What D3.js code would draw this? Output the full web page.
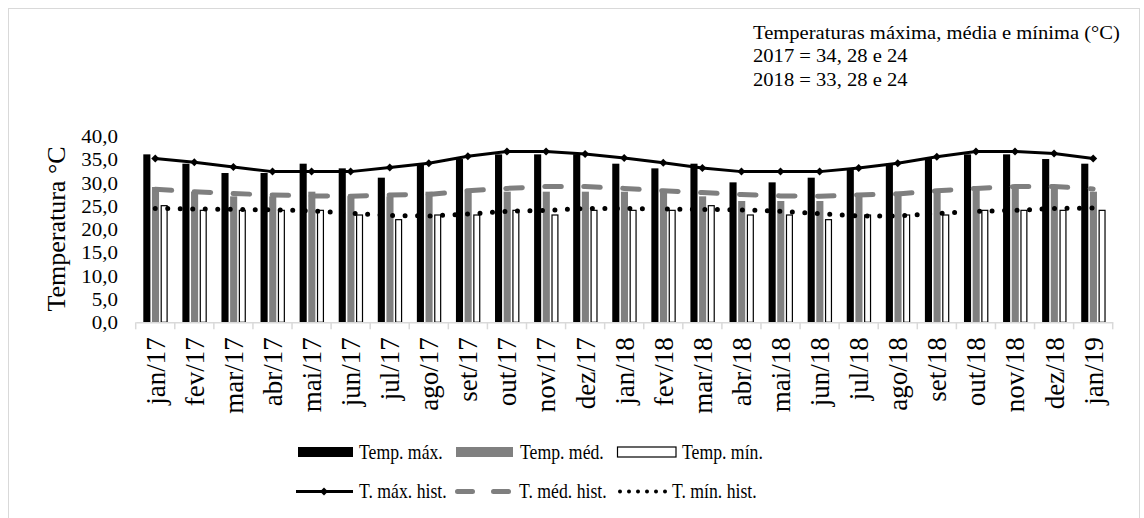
<!DOCTYPE html>
<html>
<head>
<meta charset="utf-8">
<script src="https://cdn.jsdelivr.net/npm/d3@7"></script>
<style>
  body { margin: 0; background: #fff; }
  text { font-family: 'Liberation Serif', 'Times New Roman', serif; fill: #000; }
</style>
</head>
<body>
<div id="chart"></div>
<script>
const months = ['jan/17', 'fev/17', 'mar/17', 'abr/17', 'mai/17', 'jun/17', 'jul/17', 'ago/17', 'set/17', 'out/17', 'nov/17', 'dez/17',
  'jan/18', 'fev/18', 'mar/18', 'abr/18', 'mai/18', 'jun/18', 'jul/18', 'ago/18', 'set/18', 'out/18', 'nov/18', 'dez/18', 'jan/19']

// monthly values (°C)
const tempMax = [36, 34, 32, 32, 34, 33, 31, 34, 35, 36, 36, 36, 34, 33, 34, 30, 30, 31, 33, 34, 35, 36, 36, 35, 34]
const tempMed = [29, 28, 27, 27, 28, 27, 27, 28, 28, 28, 28, 28, 28, 28, 27, 26, 26, 26, 27, 28, 28, 29, 29, 29, 28]
const tempMin = [25, 24, 24, 24, 24, 23, 22, 23, 23, 24, 23, 24, 24, 24, 25, 23, 23, 22, 23, 23, 23, 24, 24, 24, 24]

// historical averages
const histMax = [35.1, 34.3, 33.3, 32.3, 32.3, 32.3, 33.2, 34.1, 35.6, 36.6, 36.6, 36.1, 35.2, 34.2, 33.1, 32.3, 32.3, 32.3, 33.1, 34.1, 35.5, 36.6, 36.6, 36.2, 35.1]
const histMed = [28.5, 28.0, 27.6, 27.3, 27.1, 27.0, 27.3, 27.4, 28.2, 28.7, 29.1, 29.1, 28.7, 28.2, 27.8, 27.4, 27.1, 27.0, 27.3, 27.5, 28.2, 28.7, 29.1, 29.1, 28.6]
const histMin = [24.4, 24.3, 24.2, 24.1, 23.9, 23.4, 22.9, 22.8, 23.2, 23.8, 24.0, 24.4, 24.4, 24.3, 24.2, 24.1, 23.8, 23.3, 22.8, 22.8, 23.3, 23.8, 24.0, 24.4, 24.5]

const yTicks = [0, 5, 10, 15, 20, 25, 30, 35, 40]
const barNames = ['Temp. máx.', 'Temp. méd.', 'Temp. mín.']
const lineNames = ['T. máx. hist.', 'T. méd. hist.', 'T. mín. hist.']
const note = ['Temperaturas máxima, média e mínima (°C)', '2017 = 34, 28 e 24', '2018 = 33, 28 e 24']

const w = 1144
const h = 518
const squash = 0.88 // horizontal text in the source is a bit flattened

const svg = d3.select('#chart').append('svg')
  .attr('width', w)
  .attr('height', h)

svg.append('rect')
  .attr('x', 8.5).attr('y', 8.5)
  .attr('width', 1131).attr('height', 530)
  .attr('fill', '#fff')
  .attr('stroke', '#d9d9d9')

const x0 = d3.scaleBand().domain(months).range([135.7, 1112.7])
const x1 = d3.scaleBand().domain([0, 1, 2]).range([7.6, 32]).paddingInner(0.18)
const y = d3.scaleLinear().domain([0, 40]).range([322.3, 135.7])
const cx = d => x0(d) + x0.bandwidth() / 2

const loc = d3.formatLocale({ decimal: ',', thousands: '.', grouping: [3], currency: ['', ''] })

// y axis (labels only)
const gy = svg.append('g')
  .attr('transform', 'translate(118,0)')
  .call(d3.axisLeft(y).tickValues(yTicks).tickSize(0).tickPadding(0).tickFormat(loc.format('.1f')))
gy.select('.domain').remove()
gy.selectAll('text')
  .attr('transform', 'scale(1,' + squash + ')')
  .attr('dy', '0.36em')
  .style('font-family', "'Liberation Serif', 'Times New Roman', serif")
  .style('font-size', '21px')
  .attr('fill', '#000')

svg.append('text')
  .attr('transform', 'translate(64.5,229) rotate(-90)')
  .attr('text-anchor', 'middle')
  .style('font-size', '26px')
  .text('Temperatura °C')

// bars
const series = [tempMax, tempMed, tempMin]
const fills = ['#000', '#808080', '#fff']
series.forEach((vals, i) => {
  svg.append('g').selectAll('rect')
    .data(vals)
    .enter().append('rect')
    .attr('x', (d, j) => x0(months[j]) + x1(i) + (i === 2 ? 0.6 : 0))
    .attr('y', d => y(d))
    .attr('width', x1.bandwidth() - (i === 2 ? 1.2 : 0))
    .attr('height', d => y(0) - y(d))
    .attr('fill', fills[i])
    .attr('stroke', i === 2 ? '#000' : 'none')
    .attr('stroke-width', 1.2)
})

// x axis
const gx = svg.append('g')
  .attr('transform', 'translate(0,' + y(0) + ')')
  .call(d3.axisBottom(x0).tickSize(0).tickSizeOuter(0))
gx.select('.domain').attr('stroke', '#d9d9d9').attr('stroke-width', 1.5)
gx.selectAll('text')
  .attr('transform', 'rotate(-90)')
  .attr('x', -15)
  .attr('y', 0)
  .attr('dy', '0.35em')
  .attr('text-anchor', 'end')
  .attr('fill', '#000')
  .style('font-family', "'Liberation Serif', 'Times New Roman', serif")
  .style('font-size', '27px')
gx.selectAll('.bound')
  .data(months.map(m => x0(m)).concat([x0.range()[1]]))
  .enter().append('line')
  .attr('class', 'bound')
  .attr('x1', d => d).attr('x2', d => d)
  .attr('y1', 0).attr('y2', 7)
  .attr('stroke', '#d9d9d9')
  .attr('stroke-width', 1.5)

// historical lines
const line = d3.line()
  .x((d, j) => cx(months[j]))
  .y(d => y(d))

svg.append('path')
  .datum(histMed)
  .attr('d', line)
  .attr('fill', 'none')
  .attr('stroke', '#7f7f7f')
  .attr('stroke-width', 5)
  .attr('stroke-linecap', 'round')
  .attr('stroke-dasharray', '16.5,22.5')

svg.append('path')
  .datum(histMin)
  .attr('d', line)
  .attr('fill', 'none')
  .attr('stroke', '#000')
  .attr('stroke-width', 5)
  .attr('stroke-linecap', 'round')
  .attr('stroke-dasharray', '0,12.5')

svg.append('path')
  .datum(histMax)
  .attr('d', line)
  .attr('fill', 'none')
  .attr('stroke', '#000')
  .attr('stroke-width', 3)

const diamond = d3.symbol(d3.symbolSquare, 32)
svg.append('g').selectAll('path')
  .data(histMax)
  .enter().append('path')
  .attr('d', diamond)
  .attr('transform', (d, j) => 'translate(' + cx(months[j]) + ',' + y(d) + ') rotate(45)')
  .attr('fill', '#000')

// annotation
svg.append('g').selectAll('text')
  .data(note)
  .enter().append('text')
  .attr('transform', (d, i) => 'translate(753,' + (38.8 + i * 23.4) + ') scale(1,' + squash + ')')
  .style('font-size', '20.6px')
  .text(d => d)

// legend
const stretch = 1.15 // legend text is taller than it is wide
const legend = svg.append('g').style('font-size', '17.7px')
const sw1 = [298, 456, 617.5]
const swW = [55, 57, 58.5]
const tx1 = [359, 520, 682]
barNames.forEach((name, i) => {
  legend.append('rect')
    .attr('x', sw1[i]).attr('y', 447)
    .attr('width', swW[i]).attr('height', 10)
    .attr('fill', fills[i])
    .attr('stroke', i === 2 ? '#000' : 'none')
    .attr('stroke-width', 1.2)
  legend.append('text')
    .attr('transform', 'translate(' + tx1[i] + ',458.5) scale(1,' + stretch + ')')
    .text(name)
})

const ly = 491.5
legend.append('line')
  .attr('x1', 296).attr('x2', 353).attr('y1', ly).attr('y2', ly)
  .attr('stroke', '#000').attr('stroke-width', 3)
legend.append('path')
  .attr('d', diamond)
  .attr('transform', 'translate(324,' + ly + ') rotate(45)')
legend.append('line')
  .attr('x1', 457.5).attr('x2', 508.5).attr('y1', ly).attr('y2', ly)
  .attr('stroke', '#7f7f7f').attr('stroke-width', 5)
  .attr('stroke-linecap', 'round').attr('stroke-dasharray', '15,21')
legend.append('line')
  .attr('x1', 620).attr('x2', 665.2).attr('y1', ly).attr('y2', ly)
  .attr('stroke', '#000').attr('stroke-width', 4)
  .attr('stroke-linecap', 'round').attr('stroke-dasharray', '0,9')
const tx2 = [359, 519, 672]
lineNames.forEach((name, i) => {
  legend.append('text')
    .attr('transform', 'translate(' + tx2[i] + ',497.5) scale(1,' + stretch + ')')
    .text(name)
})
</script>
</body>
</html>
